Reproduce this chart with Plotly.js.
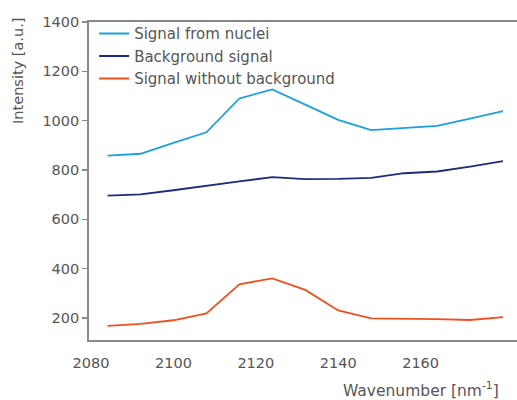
<!DOCTYPE html>
<html>
<head>
<meta charset="utf-8">
<script src="https://cdn.plot.ly/plotly-3.0.1.min.js"></script>
<style>html,body{margin:0;padding:0;background:#fff;}#chart{width:517px;height:400px;}</style>
</head>
<body>
<div id="chart"></div>
<script>
// Data
const wavenumber = [2084, 2092, 2100, 2108, 2116, 2124, 2132, 2140, 2148, 2156, 2164, 2172, 2180];
const signalFromNuclei = [858, 866, 910, 953, 1090, 1127, 1065, 1003, 962, 970, 979, 1008, 1039];
const backgroundSignal = [696, 701, 718, 737, 754, 771, 763, 764, 768, 787, 794, 814, 836];
const signalWithoutBackground = [168, 176, 191, 219, 337, 361, 314, 231, 199, 198, 196, 192, 204];
const seriesNames = ['Signal from nuclei', 'Background signal', 'Signal without background'];
const xTickValues = [2080, 2100, 2120, 2140, 2160];
const yTickValues = [200, 400, 600, 800, 1000, 1200, 1400];

const font = 'DejaVu Sans, sans-serif';
const textColor = '#555555';
const axisColor = '#8a8a8a';

const traces = [
  {x: wavenumber, y: signalFromNuclei, name: seriesNames[0], mode: 'lines',
   line: {color: '#1b9fe0', width: 1.8}},
  {x: wavenumber, y: backgroundSignal, name: seriesNames[1], mode: 'lines',
   line: {color: '#1d2a80', width: 1.8}},
  {x: wavenumber, y: signalWithoutBackground, name: seriesNames[2], mode: 'lines',
   line: {color: '#f0501e', width: 1.8}}
];

const layout = {
  width: 517, height: 400,
  margin: {l: 89, r: 0, t: 22, b: 60},
  paper_bgcolor: '#ffffff', plot_bgcolor: '#ffffff',
  font: {family: font, size: 14, color: textColor},
  showlegend: true,
  legend: {x: 0.012, y: 1.015, xanchor: 'left', yanchor: 'top', bgcolor: 'rgba(0,0,0,0)',
           font: {family: font, size: 15, color: textColor}, itemwidth: 30, tracegroupgap: 0},
  xaxis: {range: [2079.5, 2183.4], tickvals: xTickValues, ticks: '', showgrid: false, zeroline: false,
          showline: true, linecolor: axisColor, linewidth: 1.8, mirror: true,
          ticklabelstandoff: 9, tickfont: {family: font, size: 14.5, color: textColor}},
  yaxis: {range: [111, 1400], tickvals: yTickValues, ticks: 'outside', ticklen: 5, tickwidth: 1.5,
          tickcolor: axisColor, showgrid: false, zeroline: false,
          showline: true, linecolor: axisColor, linewidth: 1.8,
          tickfont: {family: font, size: 14.5, color: textColor}},
  annotations: [
    {text: 'Wavenumber [nm<sup>-1</sup>]', xref: 'paper', yref: 'paper', x: 0.962, y: -0.157,
     xanchor: 'right', yanchor: 'middle', showarrow: false, font: {family: font, size: 15.5, color: textColor}},
    {text: 'Intensity [a.u.]', xref: 'paper', yref: 'paper', x: -0.166, y: 0.846, textangle: -90,
     xanchor: 'center', yanchor: 'middle', showarrow: false, font: {family: font, size: 14.5, color: textColor}}
  ]
};

Plotly.newPlot('chart', traces, layout, {displayModeBar: false, staticPlot: true});
</script>
</body>
</html>
